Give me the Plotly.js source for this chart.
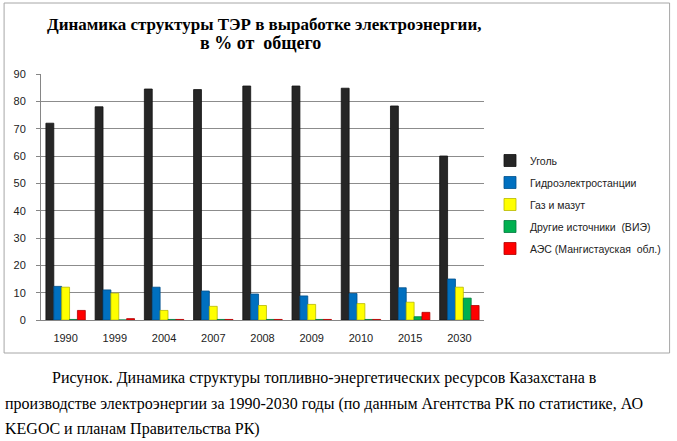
<!DOCTYPE html>
<html>
<head>
<meta charset="utf-8">
<script src="https://cdn.plot.ly/plotly-3.0.1.min.js"></script>
<style>
  html, body { margin: 0; padding: 0; background: #fff; }
  #myDiv { width: 677px; height: 441px; }
</style>
</head>
<body>
<div id="myDiv"></div>
<script>
const years = ['1990', '1999', '2004', '2007', '2008', '2009', '2010', '2015', '2030'];

const coal    = [72, 78, 84.5, 84.3, 85.6, 85.6, 84.8, 78.3, 60];
const hydro   = [12.3, 11, 12, 10.6, 9.5, 8.8, 9.7, 11.8, 15];
const gas     = [12, 9.8, 3.5, 5, 5.3, 5.7, 6, 6.5, 12];
const other   = [0.2, 0, 0.2, 0.2, 0.2, 0.2, 0.2, 1.2, 8];
const nuclear = [3.5, 0.5, 0.2, 0.2, 0.2, 0.2, 0.2, 2.8, 5.3];

const names = ['Уголь', 'Гидроэлектростанции', 'Газ и мазут', 'Другие источники  (ВИЭ)', 'АЭС (Мангистауская  обл.)'];
const colors = ['#262626', '#0070C0', '#FFFF00', '#00B050', '#FF0000'];
const edges = ['#111111', '#004f8a', '#b8b800', '#007a3d', '#b00000'];

// plot area in pixels, used to place paper-based text
const L = 41, T = 74, W = 444, H = 246;
const px = (x) => (x - L) / W;
const py = (y) => (T + H - y) / H;

const data = [coal, hydro, gas, other, nuclear].map((vals, i) => ({
  type: 'bar',
  name: names[i],
  x: years,
  y: vals,
  legendgroup: 'g' + i,
  marker: {color: colors[i], line: {color: edges[i], width: 0.8}},
  hoverinfo: 'x+y+name'
}));

const captionFont = {family: 'Liberation Serif, Times New Roman, serif', size: 16, color: '#000'};
const serif = 'Liberation Serif, Times New Roman, serif';

const layout = {
  width: 677,
  height: 441,
  margin: {l: L, r: 677 - L - W, t: T, b: 441 - T - H},
  paper_bgcolor: '#fff',
  plot_bgcolor: '#fff',
  barmode: 'group',
  bargap: 0.2,
  bargroupgap: 0,
  showlegend: true,
  font: {family: 'Liberation Sans, Arial, sans-serif', size: 11, color: '#222'},
  xaxis: {
    type: 'category',
    showgrid: false,
    showline: true,
    linecolor: '#868686',
    ticks: 'outside',
    ticklen: 0,
    ticklabelstandoff: 8,
    tickfont: {size: 11, color: '#222'}
  },
  yaxis: {
    range: [0, 90],
    dtick: 10,
    showgrid: true,
    gridcolor: '#8c8c8c',
    gridwidth: 1,
    showline: true,
    linecolor: '#868686',
    ticks: 'outside',
    ticklen: 4,
    tickcolor: '#868686',
    ticklabelstandoff: 8,
    zeroline: false,
    tickfont: {size: 11, color: '#222'}
  },
  legend: {
    x: px(666),
    y: py(146),
    xanchor: 'right',
    yanchor: 'top',
    bgcolor: 'rgba(0,0,0,0)',
    font: {size: 10.5, color: '#222'},
    tracegroupgap: 3,
    itemwidth: 30
  },
  shapes: [{
    type: 'rect',
    xref: 'paper', yref: 'paper',
    x0: px(4), x1: px(671), y0: py(353), y1: py(3),
    line: {color: '#a6a6a6', width: 1},
    fillcolor: 'rgba(0,0,0,0)',
    layer: 'below'
  }],
  annotations: [
    {
      text: '<b>Динамика структуры ТЭР в выработке электроэнергии,</b>',
      xref: 'paper', yref: 'paper', x: px(265), y: py(25),
      xanchor: 'center', yanchor: 'middle', showarrow: false,
      font: {family: serif, size: 17, color: '#000'}
    },
    {
      text: '<b>в % от  общего</b>',
      xref: 'paper', yref: 'paper', x: px(261), y: py(43),
      xanchor: 'center', yanchor: 'middle', showarrow: false,
      font: {family: serif, size: 18, color: '#000'}
    },
    {
      text: 'Рисунок. Динамика структуры топливно-энергетических ресурсов Казахстана в',
      xref: 'paper', yref: 'paper', x: px(50), y: py(378),
      xanchor: 'left', yanchor: 'middle', showarrow: false, font: captionFont
    },
    {
      text: 'производстве электроэнергии за 1990-2030 годы (по данным Агентства РК по статистике, АО',
      xref: 'paper', yref: 'paper', x: px(3), y: py(404),
      xanchor: 'left', yanchor: 'middle', showarrow: false, font: captionFont
    },
    {
      text: 'KEGOC и планам Правительства РК)',
      xref: 'paper', yref: 'paper', x: px(3), y: py(429),
      xanchor: 'left', yanchor: 'middle', showarrow: false, font: captionFont
    }
  ]
};

const config = {displayModeBar: false};

Plotly.newPlot('myDiv', data, layout, config);
</script>
</body>
</html>
